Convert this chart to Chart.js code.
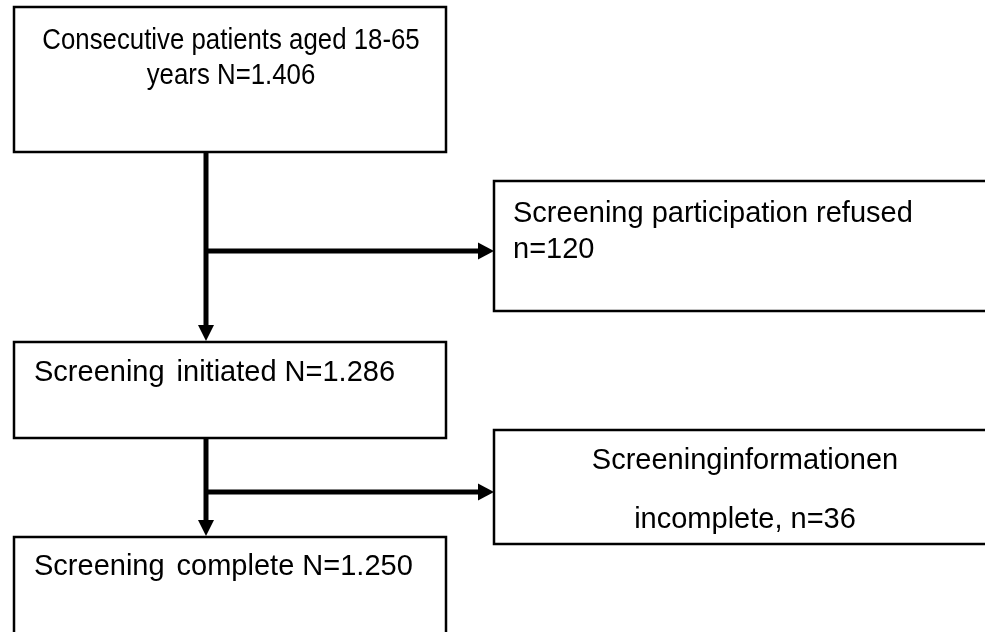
<!DOCTYPE html>
<html>
<head>
<meta charset="utf-8">
<script src="https://cdn.jsdelivr.net/npm/chart.js@4"></script>
<style>
  html, body { margin: 0; padding: 0; background: #fff; }
  #wrap { width: 985px; height: 632px; position: relative; }
</style>
</head>
<body>
<div id="wrap"><canvas id="flowChart"></canvas></div>
<script>
// Flow data
const stageLabels = ["Consecutive patients aged 18-65 years", "Screening initiated", "Screening complete"];
const stageCounts = [1406, 1286, 1250];
const exclusionLabels = ["Screening participation refused", "Screeninginformationen incomplete"];
const exclusionCounts = [120, 36];

// Layout in scale units (the scales run 0..985 and 0..632, like the page)
const mainBoxes = [
  { x0: 14, x1: 446, y0: 7, y1: 152 },
  { x0: 14, x1: 446, y0: 342, y1: 438 },
  { x0: 14, x1: 446, y0: 537, y1: 700 }
];
const sideBoxes = [
  { x0: 494, x1: 1010, y0: 181, y1: 311 },
  { x0: 494, x1: 1010, y0: 430, y1: 544 }
];
const trunkX = 206;
const branchY = [251, 492];

function fmt(n) {
  // German thousands separator, e.g. 1.406
  return String(n).replace(/\B(?=(\d{3})+(?!\d))/g, ".");
}

const flowPlugin = {
  id: "flow",
  afterDraw(chart) {
    const ctx = chart.ctx;
    const xs = chart.scales.x;
    const ys = chart.scales.y;
    const X = (v) => xs.getPixelForValue(v);
    const Y = (v) => ys.getPixelForValue(v);
    ctx.save();

    // boxes
    ctx.strokeStyle = "#000";
    ctx.lineWidth = 2.5;
    mainBoxes.concat(sideBoxes).forEach((b) => {
      ctx.strokeRect(X(b.x0), Y(b.y0), X(b.x1) - X(b.x0), Y(b.y1) - Y(b.y0));
    });

    // connectors
    ctx.lineWidth = 5;
    ctx.fillStyle = "#000";
    function downArrow(x, ya, yb) {
      ctx.beginPath();
      ctx.moveTo(X(x), Y(ya));
      ctx.lineTo(X(x), Y(yb) - 12);
      ctx.stroke();
      ctx.beginPath();
      ctx.moveTo(X(x) - 8, Y(yb) - 17);
      ctx.lineTo(X(x) + 8, Y(yb) - 17);
      ctx.lineTo(X(x), Y(yb) - 1);
      ctx.closePath();
      ctx.fill();
    }
    function rightArrow(xa, xb, y) {
      ctx.beginPath();
      ctx.moveTo(X(xa), Y(y));
      ctx.lineTo(X(xb) - 12, Y(y));
      ctx.stroke();
      ctx.beginPath();
      ctx.moveTo(X(xb) - 16, Y(y) - 8.5);
      ctx.lineTo(X(xb) - 16, Y(y) + 8.5);
      ctx.lineTo(X(xb), Y(y));
      ctx.closePath();
      ctx.fill();
    }
    downArrow(trunkX, mainBoxes[0].y1, mainBoxes[1].y0);
    downArrow(trunkX, mainBoxes[1].y1, mainBoxes[2].y0);
    rightArrow(trunkX, sideBoxes[0].x0, branchY[0]);
    rightArrow(trunkX, sideBoxes[1].x0, branchY[1]);

    // texts
    ctx.fillStyle = "#000";
    ctx.font = '29px "Liberation Sans", Arial, sans-serif';
    ctx.textBaseline = "alphabetic";

    // box 1: centred, slightly condensed
    const b1 = mainBoxes[0];
    const cx1 = (X(b1.x0) + X(b1.x1)) / 2 + 1;
    const words = stageLabels[0].split(" ");
    const l1 = words.slice(0, -1).join(" ");
    const l2 = words[words.length - 1] + " N=" + fmt(stageCounts[0]);
    [[l1, 49], [l2, 84]].forEach(([t, yy]) => {
      ctx.save();
      ctx.translate(cx1, Y(yy));
      ctx.scale(0.89, 1.04);
      ctx.textAlign = "center";
      ctx.fillText(t, 0, 0);
      ctx.restore();
    });

    // boxes 2 and 3: left aligned, wide gap after first word
    ctx.textAlign = "left";
    [[1, 381], [2, 575]].forEach(([i, yy]) => {
      const parts = stageLabels[i].split(" ");
      const first = parts[0];
      const rest = parts.slice(1).join(" ") + " N=" + fmt(stageCounts[i]);
      const x = X(mainBoxes[i].x0) + 20;
      ctx.fillText(first, x, Y(yy));
      ctx.fillText(rest, x + ctx.measureText(first).width + 12, Y(yy));
    });

    // side box 1: left aligned
    const s1 = sideBoxes[0];
    ctx.fillText(exclusionLabels[0], X(s1.x0) + 19, Y(222));
    ctx.fillText("n=" + exclusionCounts[0], X(s1.x0) + 19, Y(258));

    // side box 2: centred
    ctx.textAlign = "center";
    const ex = exclusionLabels[1].split(" ");
    ctx.fillText(ex[0], X(745), Y(469));
    ctx.fillText(ex.slice(1).join(" ") + ", n=" + exclusionCounts[1], X(745), Y(528));

    ctx.restore();
  }
};

new Chart(document.getElementById("flowChart"), {
  type: "scatter",
  data: { datasets: [{ data: [] }] },
  options: {
    responsive: true,
    maintainAspectRatio: false,
    animation: false,
    layout: { padding: 0 },
    plugins: { legend: { display: false }, tooltip: { enabled: false } },
    scales: {
      x: { type: "linear", min: 0, max: 985, display: false },
      y: { type: "linear", min: 0, max: 632, reverse: true, display: false }
    }
  },
  plugins: [flowPlugin]
});
</script>
</body>
</html>
